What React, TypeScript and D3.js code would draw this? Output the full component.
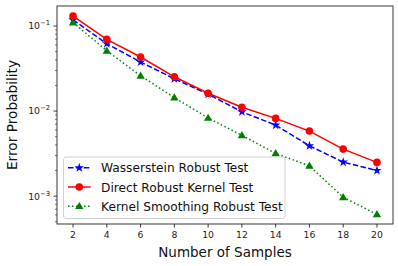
import React from 'react';
import * as d3 from 'd3';

const samples = [2, 4, 6, 8, 10, 12, 14, 16, 18, 20];
const wasserstein = [0.118, 0.062, 0.0377, 0.024, 0.0158, 0.0098, 0.00684, 0.0039, 0.00251, 0.002];
const directKernel = [0.131, 0.0697, 0.0432, 0.0253, 0.0162, 0.0111, 0.0082, 0.00582, 0.00357, 0.00249];
const kernelSmoothing = [0.11, 0.0512, 0.026, 0.0144, 0.0083, 0.00518, 0.00318, 0.00227, 0.00097, 0.00061];
const seriesNames = ['Wasserstein Robust Test', 'Direct Robust Kernel Test', 'Kernel Smoothing Robust Test'];
const xTicks = [2, 4, 6, 8, 10, 12, 14, 16, 18, 20];
const yMajorExps = [-1, -2, -3];

const W = 398;
const H = 266;
const m = { l: 57, r: 5, t: 6, b: 42 };
const font = '"DejaVu Sans", sans-serif';

type Marker = 'star' | 'circle' | 'triangle';

const series = [
    { name: seriesNames[0], values: wasserstein, color: '#0000ff', dash: '5.5,2.4', marker: 'star' as Marker },
    { name: seriesNames[1], values: directKernel, color: '#ff0000', dash: undefined, marker: 'circle' as Marker },
    { name: seriesNames[2], values: kernelSmoothing, color: '#008000', dash: '1.5,2.5', marker: 'triangle' as Marker },
];

function MarkerShape({ type, x, y, color }: { type: Marker; x: number; y: number; color: string }) {
    if (type === 'circle') return <circle cx={x} cy={y} r={3.8} fill={color} />;
    const sym = type === 'star' ? d3.symbol(d3.symbolStar, 28) : d3.symbol(d3.symbolTriangle, 30);
    const dy = type === 'triangle' ? 0.5 : 0;
    return <path d={sym() || ''} transform={`translate(${x},${y + dy})`} fill={color} />;
}

export default function App() {
    const x = d3.scaleLinear().domain([1.05, 20.95]).range([m.l, W - m.r]);
    const y = d3.scaleLog().domain([4.7e-4, 0.172]).range([H - m.b, m.t]);
    const [y0, y1] = y.domain();

    const line = d3.line<number>()
        .x((_, i) => x(samples[i]))
        .y(d => y(d));

    const minor: number[] = [];
    for (let e = -4; e <= 0; e++) {
        for (let k = 2; k <= 9; k++) {
            const v = k * Math.pow(10, e);
            if (v >= y0 && v <= y1) minor.push(v);
        }
    }

    const legX = 63.5;
    const legY = 157;
    const rowH = 19.2;

    return (
        <div style={{ position: 'fixed', left: 0, top: 0 }}>
            <svg width={W} height={H} style={{ display: 'block', background: '#fff' }} fontFamily={font}>
                <defs>
                    <clipPath id="plot">
                        <rect x={m.l} y={m.t} width={W - m.l - m.r} height={H - m.t - m.b} />
                    </clipPath>
                </defs>
                <g clipPath="url(#plot)">
                    {series.map(s => (
                        <g key={s.name}>
                            <path d={line(s.values) || ''} fill="none" stroke={s.color} strokeWidth={1.5}
                                strokeDasharray={s.dash} />
                            {s.values.map((v, i) => (
                                <MarkerShape key={i} type={s.marker} x={x(samples[i])} y={y(v)} color={s.color} />
                            ))}
                        </g>
                    ))}
                </g>
                <rect x={m.l} y={m.t} width={W - m.l - m.r} height={H - m.t - m.b} fill="none" stroke="#222" strokeWidth={0.9} />
                {xTicks.map(t => (
                    <g key={t} transform={`translate(${x(t)},${H - m.b})`}>
                        <line y2={3.5} stroke="#222" strokeWidth={0.9} />
                        <text y={14} textAnchor="middle" fontSize={9.3} fill="#222">{t}</text>
                    </g>
                ))}
                {yMajorExps.map(e => (
                    <g key={e} transform={`translate(${m.l},${y(Math.pow(10, e))})`}>
                        <line x2={-3.5} stroke="#222" strokeWidth={0.9} />
                        <text x={-7} y={3.4} textAnchor="end" fontSize={9.3} fill="#222">
                            10<tspan dy={-4} fontSize={6.8}>{'\u2212' + Math.abs(e)}</tspan>
                        </text>
                    </g>
                ))}
                {minor.map(v => (
                    <line key={v} x1={m.l} x2={m.l - 2} y1={y(v)} y2={y(v)} stroke="#222" strokeWidth={0.6} />
                ))}
                <text x={(m.l + W - m.r) / 2} y={257} textAnchor="middle" fontSize={13.5} fill="#111">Number of Samples</text>
                <text transform={`translate(17,${(m.t + H - m.b) / 2}) rotate(-90)`} textAnchor="middle" fontSize={13.7} fill="#111">Error Probability</text>
                <rect x={legX} y={legY} width={221.5} height={61.5} rx={2.5} fill="#fff" fillOpacity={0.8}
                    stroke="#cccccc" strokeWidth={0.9} />
                {series.map((s, i) => {
                    const cy = legY + 10.8 + i * rowH;
                    return (
                        <g key={s.name}>
                            <line x1={legX + 4.5} x2={legX + 27} y1={cy} y2={cy} stroke={s.color} strokeWidth={1.5}
                                strokeDasharray={s.dash} />
                            <MarkerShape type={s.marker} x={legX + 15.8} y={cy} color={s.color} />
                            <text x={legX + 37.5} y={cy + 4.5} fontSize={12.2} fill="#111">{s.name}</text>
                        </g>
                    );
                })}
            </svg>
        </div>
    );
}
